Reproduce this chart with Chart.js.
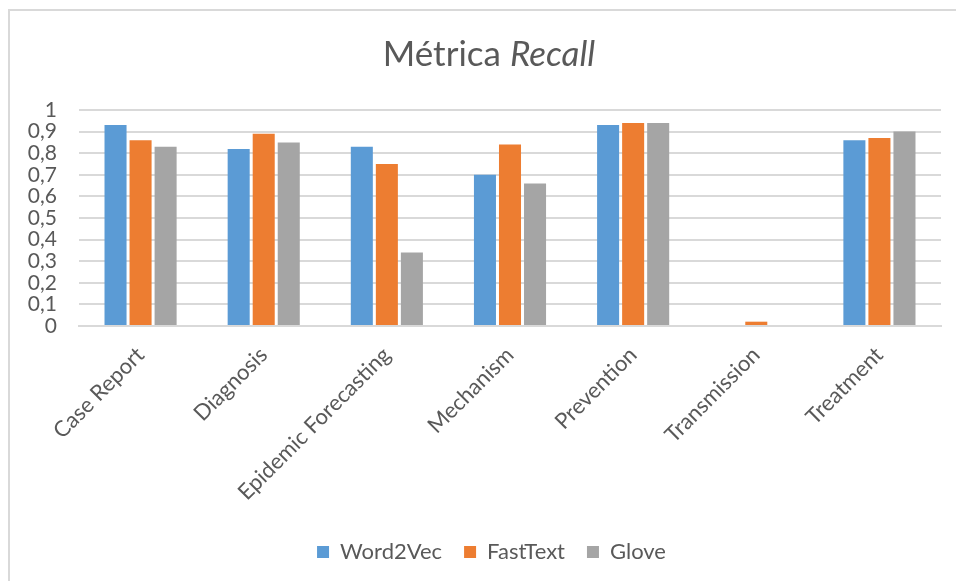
<!DOCTYPE html>
<html>
<head>
<meta charset="utf-8">
<script src="https://cdn.jsdelivr.net/npm/chart.js@4"></script>
<style>
  html, body { margin: 0; padding: 0; background: #fff; }
  canvas { display: block; }
</style>
</head>
<body>
<canvas id="myChart" width="956" height="581"></canvas>
<script>
const categories = ["Case Report", "Diagnosis", "Epidemic Forecasting", "Mechanism", "Prevention", "Transmission", "Treatment"];
const word2vec = [0.93, 0.82, 0.83, 0.70, 0.93, 0, 0.86];
const fastText = [0.86, 0.89, 0.75, 0.84, 0.94, 0.02, 0.87];
const glove = [0.83, 0.85, 0.34, 0.66, 0.94, 0, 0.90];
const yTicks = [0, 0.1, 0.2, 0.3, 0.4, 0.5, 0.6, 0.7, 0.8, 0.9, 1];

const textColor = "#595959";
const gridColor = "#d9d9d9";
const fontFamily = "Lato, 'Open Sans', sans-serif";

// frame lines, a title with an italic word, legend nudged to the frame's centre
const framePlugin = {
  id: "frame",
  afterLayout(chart) {
    chart.legend.left += 16;
    chart.legend.right += 16;
  },
  beforeDraw(chart) {
    const ctx = chart.ctx;
    ctx.save();
    ctx.fillStyle = "#fff";
    ctx.fillRect(0, 0, chart.width, chart.height);
    ctx.strokeStyle = gridColor;
    ctx.lineWidth = 2;
    ctx.beginPath();
    ctx.moveTo(9, chart.height);
    ctx.lineTo(9, 10);
    ctx.lineTo(chart.width, 10);
    ctx.stroke();
    ctx.restore();
  },
  afterDraw(chart) {
    const ctx = chart.ctx;
    const normal = "35px " + fontFamily;
    const italic = "italic 35px " + fontFamily;
    ctx.save();
    ctx.fillStyle = textColor;
    ctx.textBaseline = "alphabetic";
    ctx.font = normal;
    const w1 = ctx.measureText("Métrica ").width;
    ctx.font = italic;
    const w2 = ctx.measureText("Recall").width;
    const x0 = 489 - (w1 + w2) / 2;
    ctx.font = normal;
    ctx.fillText("Métrica ", x0, 66);
    ctx.font = italic;
    ctx.fillText("Recall", x0 + w1, 66);
    ctx.restore();
  }
};

const data = {
  labels: categories,
  datasets: [
    { label: "Word2Vec", data: word2vec, backgroundColor: "#5B9BD5" },
    { label: "FastText", data: fastText, backgroundColor: "#ED7D31" },
    { label: "Glove", data: glove, backgroundColor: "#A5A5A5" }
  ]
};

const config = {
  type: "bar",
  data: data,
  options: {
    responsive: false,
    animation: false,
    layout: { padding: { top: 110, left: 10, right: 15, bottom: 8 } },
    datasets: {
      bar: { categoryPercentage: 0.61, barPercentage: 0.88 }
    },
    scales: {
      x: {
        grid: { display: false },
        border: { color: gridColor, width: 2 },
        ticks: {
          color: textColor,
          font: { family: fontFamily, size: 22 },
          maxRotation: 45,
          minRotation: 45,
          padding: 8,
          autoSkip: false
        },
        afterFit(s) { s.height = 193; }
      },
      y: {
        min: 0,
        max: 1,
        afterBuildTicks(s) { s.ticks = yTicks.map(v => ({ value: v })); },
        grid: { color: gridColor, lineWidth: 2, drawTicks: false },
        border: { display: false },
        ticks: {
          color: textColor,
          font: { family: fontFamily, size: 21 },
          padding: 22,
          autoSkip: false,
          callback: v => String(Number(v.toFixed(1))).replace(".", ",")
        },
        afterFit(s) { s.width = 69; }
      }
    },
    plugins: {
      title: { display: false },
      tooltip: { enabled: false },
      legend: {
        position: "bottom",
        labels: {
          color: textColor,
          font: { family: fontFamily, size: 22 },
          boxWidth: 12,
          boxHeight: 12,
          padding: 22
        }
      }
    }
  },
  plugins: [framePlugin]
};

const ctx = document.getElementById("myChart").getContext("2d");
const myChart = new Chart(ctx, config);
</script>
</body>
</html>
